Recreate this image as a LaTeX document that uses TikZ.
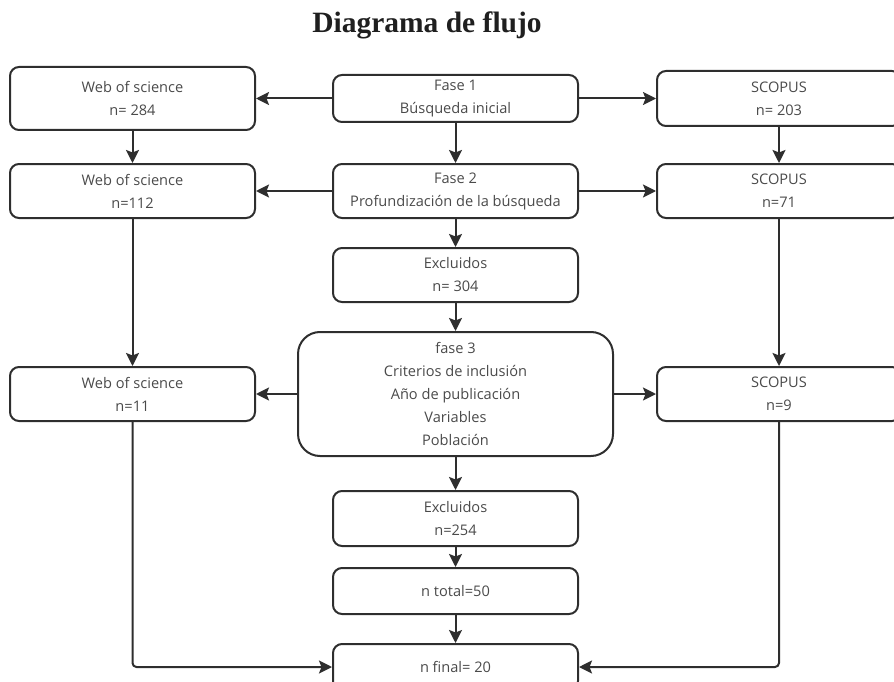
\documentclass[tikz,border=0pt]{standalone}
\usepackage{fontspec}
\setmainfont{Open Sans}
\newfontfamily\titlefont{Liberation Serif}
\usetikzlibrary{arrows.meta}
\definecolor{linec}{HTML}{2E2E2E}
\definecolor{textc}{HTML}{4A4A4A}
\begin{document}
\begin{tikzpicture}[x=1pt,y=-1pt,
  box/.style={draw=linec, line width=2pt, rounded corners=9pt, inner sep=0pt,
    align=center, text=textc, font=\fontsize{14.6}{23}\selectfont,
    minimum width=245pt, minimum height=54pt},
  arr/.style={draw=linec, line width=2pt, -{Stealth[length=13pt,width=13pt,inset=2.5pt]}}]
\useasboundingbox (0,0) rectangle (894,682);
\clip (0,0) rectangle (894,682);

\node[anchor=base, font=\titlefont\bfseries\fontsize{29.5}{34}\selectfont, text=black!88] (title) at (427,33) {Diagrama de flujo};

\node[box, minimum height=63pt] (wos1) at (132.5,98.5) {Web of science\\n= 284};
\node[box, minimum height=47pt] (f1) at (455.5,98.5) {Fase 1\\Búsqueda inicial};
\node[box, minimum width=244pt, minimum height=55pt] (sc1) at (779,98.5) {SCOPUS\\n= 203};

\node[box] (wos2) at (132.5,191) {Web of science\\n=112};
\node[box] (f2) at (455.5,191) {Fase 2\\Profundización de la búsqueda};
\node[box, minimum width=244pt] (sc2) at (779,191) {SCOPUS\\n=71};

\node[box] (ex1) at (455.5,275) {Excluidos\\n= 304};

\node[box, minimum width=315pt, minimum height=124pt, rounded corners=22pt] (f3) at (455.5,394)
  {fase 3\\Criterios de inclusión\\Año de publicación\\Variables\\Población};
\node[box] (wos3) at (132.5,394) {Web of science\\n=11};
\node[box, minimum width=244pt] (sc3) at (779,394) {SCOPUS\\n=9};

\node[box, minimum height=55pt] (ex2) at (455.5,518.5) {Excluidos\\n=254};
\node[box, minimum height=46pt] (nt) at (455.5,591) {n total=50};
\node[box, minimum height=46pt] (nf) at (455.5,667) {n final= 20};

\draw[arr] (f1) -- (wos1);
\draw[arr] (f1) -- (sc1);
\draw[arr] (f1) -- (f2);
\draw[arr] (wos1) -- (wos2);
\draw[arr] (sc1) -- (sc2);
\draw[arr] (f2) -- (wos2);
\draw[arr] (f2) -- (sc2);
\draw[arr] (f2) -- (ex1);
\draw[arr] (ex1) -- (f3);
\draw[arr] (wos2) -- (wos3);
\draw[arr] (sc2) -- (sc3);
\draw[arr] (f3) -- (wos3);
\draw[arr] (f3) -- (sc3);
\draw[arr] (f3) -- (ex2);
\draw[arr] (ex2) -- (nt);
\draw[arr] (nt) -- (nf);
\draw[arr, rounded corners=4pt] (wos3.south) |- (nf.west);
\draw[arr, rounded corners=4pt] (sc3.south) |- (nf.east);
\end{tikzpicture}
\end{document}
